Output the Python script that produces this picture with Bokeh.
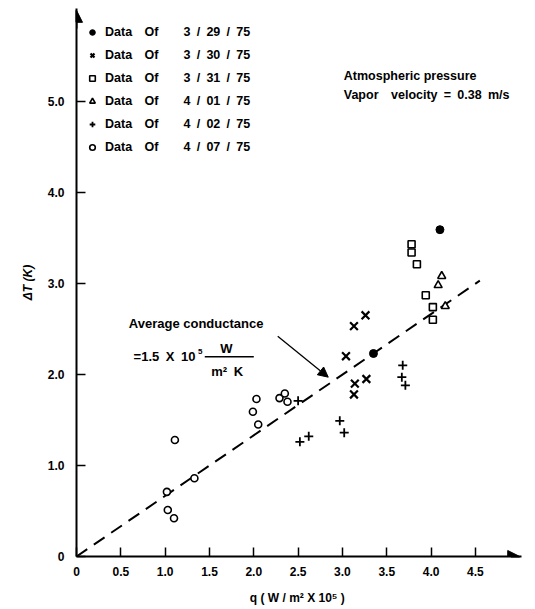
from bokeh.plotting import figure
from bokeh.models import (Range1d, FixedTicker, Legend, LegendItem, Label, Arrow,
                          NormalHead)
from bokeh.embed import file_html
from bokeh.resources import INLINE

# ---- data ----
q_0329 = [4.10, 3.35]
dT_0329 = [3.59, 2.23]
q_0330 = [3.26, 3.13, 3.04, 3.14, 3.27, 3.13]
dT_0330 = [2.65, 2.53, 2.20, 1.90, 1.95, 1.78]
q_0331 = [3.78, 3.78, 3.84, 3.94, 4.02, 4.02]
dT_0331 = [3.43, 3.34, 3.21, 2.87, 2.74, 2.60]
q_0401 = [4.12, 4.08, 4.16]
dT_0401 = [3.08, 2.98, 2.75]
q_0402 = [2.50, 2.52, 2.62, 2.97, 3.02, 3.68, 3.67, 3.71]
dT_0402 = [1.71, 1.26, 1.32, 1.49, 1.36, 2.10, 1.97, 1.88]
q_0407 = [1.11, 1.33, 1.02, 1.03, 1.10, 2.03, 1.99, 2.05, 2.29, 2.35, 2.38]
dT_0407 = [1.28, 0.86, 0.71, 0.51, 0.42, 1.73, 1.59, 1.45, 1.74, 1.79, 1.70]

fit_q = [0.0, 4.55]
fit_dT = [0.0, 3.03]

dates = ["3 / 29 / 75", "3 / 30 / 75", "3 / 31 / 75",
         "4 / 01 / 75", "4 / 02 / 75", "4 / 07 / 75"]

x_ticks = [0, 0.5, 1.0, 1.5, 2.0, 2.5, 3.0, 3.5, 4.0, 4.5]
x_tick_labels = ["0", "0.5", "1.0", "1.5", "2.0", "2.5", "3.0", "3.5", "4.0", "4.5"]
y_ticks = [0, 1, 2, 3, 4, 5]
y_tick_labels = ["0", "1.0", "2.0", "3.0", "4.0", "5.0"]

FONT = "Liberation Sans"
FS = "12px"
EN = "\u2002"
EM = "\u2003"

p = figure(width=524, height=607, x_range=Range1d(0, 5.02), y_range=Range1d(0, 6.02),
           output_backend="svg", toolbar_location=None,
           min_border_left=76, min_border_right=3, min_border_top=8, min_border_bottom=50)
p.outline_line_color = None
p.grid.visible = False
p.background_fill_color = "white"

for ax in (p.xaxis[0], p.yaxis[0]):
    ax.axis_line_width = 2
    ax.axis_line_color = "black"
    ax.major_tick_in = 9
    ax.major_tick_out = 0
    ax.major_tick_line_width = 1.5
    ax.minor_tick_line_color = None
    ax.major_label_text_font = FONT
    ax.major_label_text_font_size = FS
    ax.major_label_text_font_style = "bold"
    ax.major_label_text_color = "black"
    ax.axis_label_text_font = FONT
    ax.axis_label_text_font_size = FS
    ax.axis_label_text_color = "black"

p.xaxis.ticker = FixedTicker(ticks=x_ticks)
p.xaxis.major_label_overrides = {t: l for t, l in zip(x_ticks, x_tick_labels)}
p.xaxis.major_label_standoff = 10
p.xaxis.axis_label = "q  ( W / m\u00b2 X 10\u2075 )"
p.xaxis.axis_label_text_font_style = "bold"
p.xaxis.axis_label_standoff = 12

p.yaxis.ticker = FixedTicker(ticks=y_ticks)
p.yaxis.major_label_overrides = {t: l for t, l in zip(y_ticks, y_tick_labels)}
p.yaxis.major_label_standoff = 12
p.yaxis.axis_label = "\u0394T (K)"
p.yaxis.axis_label_text_font_style = "bold italic"
p.yaxis.axis_label_standoff = 10

# axis arrow heads
p.add_layout(Arrow(end=NormalHead(size=12, fill_color="black", line_color="black"),
                   x_start=4.9, y_start=0, x_end=5.0, y_end=0, line_width=2))
p.add_layout(Arrow(end=NormalHead(size=12, fill_color="black", line_color="black"),
                   x_start=0, y_start=5.8, x_end=0, y_end=6.0, line_width=2))

# average conductance line
p.line(fit_q, fit_dT, line_color="black", line_width=2, line_dash="13 8")

# data
r1 = p.scatter(q_0329, dT_0329, marker="circle", size=8, fill_color="black", line_color="black")
r2 = p.scatter(q_0330, dT_0330, marker="x", size=11, line_color="black", line_width=2.2)
r3 = p.scatter(q_0331, dT_0331, marker="square", size=7, fill_color="white", line_color="black", line_width=1.6)
r4 = p.scatter(q_0401, dT_0401, marker="triangle", size=8, fill_color="white", line_color="black", line_width=1.6)
r5 = p.scatter(q_0402, dT_0402, marker="cross", size=9, line_color="black", line_width=1.8)
r6 = p.scatter(q_0407, dT_0407, marker="circle", size=7, fill_color="white", line_color="black", line_width=1.6)

renderers = [r1, r2, r3, r4, r5, r6]
items = [LegendItem(label="Data" + EM + "Of" + EM + EM + d.replace(" ", EN), renderers=[r])
         for d, r in zip(dates, renderers)]
legend = Legend(items=items, location=(9, 399), border_line_color=None,
                background_fill_alpha=0, label_text_font=FONT, label_text_font_size="12.5px",
                label_text_font_style="bold", label_text_color="black",
                glyph_width=14, glyph_height=20,
                label_height=20, spacing=3, padding=8, margin=0, label_standoff=6)
p.add_layout(legend)

# annotations
def lab(x, y, t, size=FS, align="left"):
    p.add_layout(Label(x=x, y=y, text=t, text_font=FONT, text_font_size=size,
                       text_font_style="bold", text_align=align,
                       text_baseline="middle", text_color="black"))

lab(3.015, 5.274, "Atmospheric pressure", size="12.5px")
lab(3.015, 5.074, "Vapor" + EM + "velocity" + EN + "=" + EN + "0.38" + EN + "m/s", size="12.5px")
lab(0.59, 2.555, "Average conductance", size="13px")
lab(0.644, 2.196, "=1.5" + EN + "X" + EN + "10", size="13px")
lab(1.37, 2.25, "5", size="8px")
lab(1.69, 2.29, "W", align="center", size="13px")
lab(1.70, 2.03, "m\u00b2" + EN + "K", align="center", size="13px")

p.line([1.447, 2.0], [2.193, 2.193], line_color="black", line_width=1.5)
p.add_layout(Arrow(end=NormalHead(size=10, fill_color="black", line_color="black"),
                   x_start=2.27, y_start=2.42, x_end=2.84, y_end=1.97, line_width=1.3))

open("out.html", "w").write(file_html(p, INLINE))
